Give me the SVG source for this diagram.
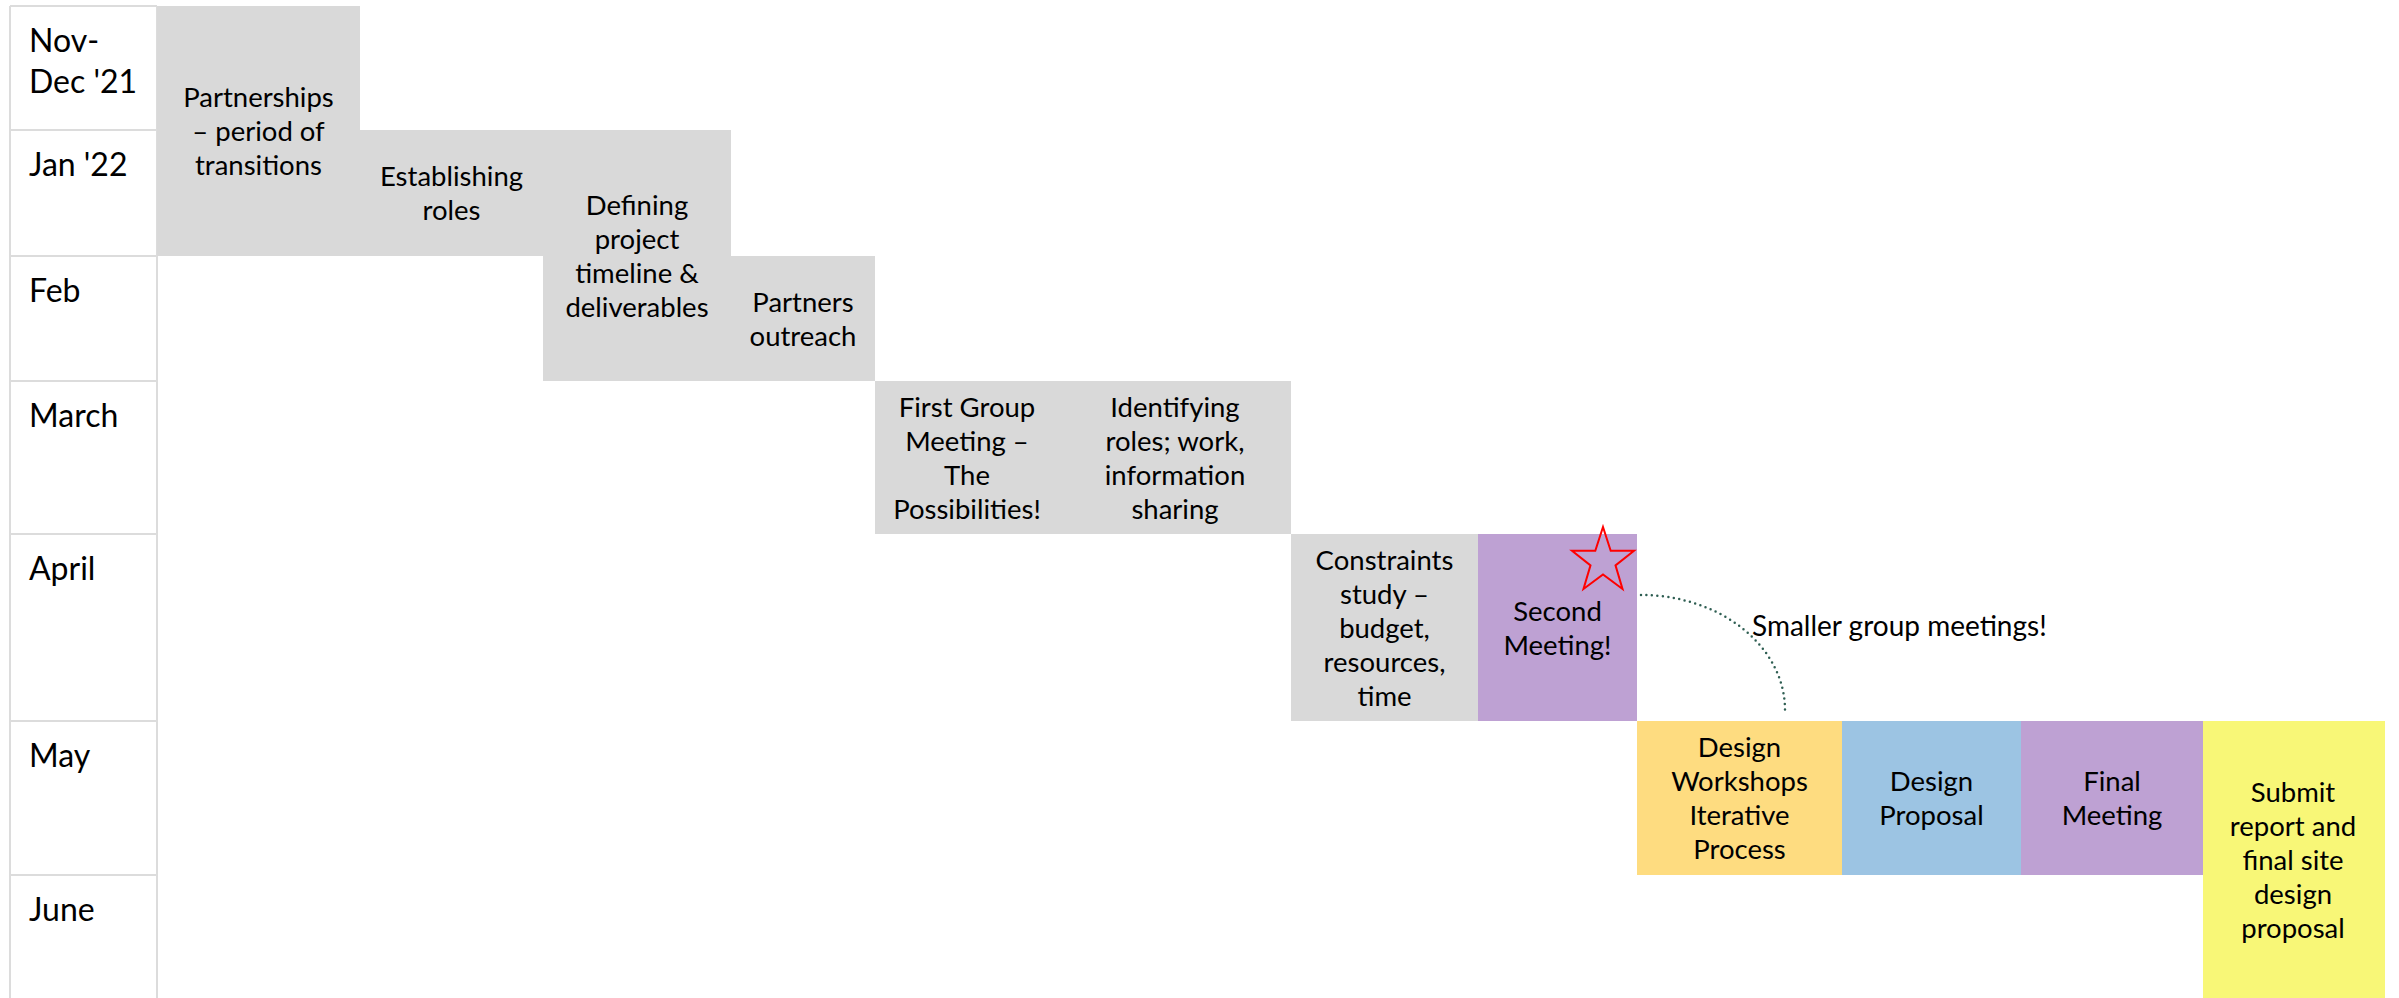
<svg xmlns="http://www.w3.org/2000/svg" width="2399" height="998" viewBox="0 0 2399 998">
<style>
.grid{stroke:#DCDCDC;stroke-width:2;fill:none}
.mon{font-family:Lato,"Liberation Sans",sans-serif;font-size:32px;fill:#000}
.t{font-family:Lato,"Liberation Sans",sans-serif;font-size:27.5px;fill:#000;text-anchor:middle}
.gray{fill:#D9D9D9}
.purple{fill:#BEA1D3}
.gold{fill:#FEDC80}
.blue{fill:#9CC4E3}
.yellow{fill:#F8F777}
.note{font-family:Lato,"Liberation Sans",sans-serif;font-size:28px;fill:#000}
</style>
<rect width="2399" height="998" fill="#fff"/>
<g id="table">
<path class="grid" d="M10,6V998M157,6V998M10,6H157M10,130H157M10,256H157M10,381H157M10,534H157M10,721H157M10,875H157"/>
<text class="mon" x="29" y="52">Nov-</text>
<text class="mon" x="29" y="93">Dec '21</text>
<text class="mon" x="29" y="176">Jan '22</text>
<text class="mon" x="29" y="302">Feb</text>
<text class="mon" x="29" y="427">March</text>
<text class="mon" x="29" y="580">April</text>
<text class="mon" x="29" y="767">May</text>
<text class="mon" x="29" y="921">June</text>
</g>
<g id="n1"><rect class="gray" x="157" y="6" width="203" height="250"/>
<text class="t" x="258.5" y="107">Partnerships</text><text class="t" x="258.5" y="141">– period of</text><text class="t" x="258.5" y="175">transitions</text></g>
<g id="n2"><rect class="gray" x="360" y="130" width="183" height="126"/>
<text class="t" x="451.5" y="186">Establishing</text><text class="t" x="451.5" y="220">roles</text></g>
<g id="n3"><rect class="gray" x="543" y="130" width="188" height="251"/>
<text class="t" x="637" y="214.5">Defining</text><text class="t" x="637" y="248.5">project</text><text class="t" x="637" y="282.5">timeline &amp;</text><text class="t" x="637" y="316.5">deliverables</text></g>
<g id="n4"><rect class="gray" x="731" y="256" width="144" height="125"/>
<text class="t" x="803" y="311.5">Partners</text><text class="t" x="803" y="345.5">outreach</text></g>
<g id="n5"><rect class="gray" x="875" y="381" width="184" height="153"/>
<text class="t" x="967" y="416.5">First Group</text><text class="t" x="967" y="450.5">Meeting –</text><text class="t" x="967" y="484.5">The</text><text class="t" x="967" y="518.5">Possibilities!</text></g>
<g id="n6"><rect class="gray" x="1059" y="381" width="232" height="153"/>
<text class="t" x="1175" y="416.5">Identifying</text><text class="t" x="1175" y="450.5">roles; work,</text><text class="t" x="1175" y="484.5">information</text><text class="t" x="1175" y="518.5">sharing</text></g>
<g id="n7"><rect class="gray" x="1291" y="534" width="187" height="187"/>
<text class="t" x="1384.5" y="569.5">Constraints</text><text class="t" x="1384.5" y="603.5">study –</text><text class="t" x="1384.5" y="637.5">budget,</text><text class="t" x="1384.5" y="671.5">resources,</text><text class="t" x="1384.5" y="705.5">time</text></g>
<g id="n8"><rect class="purple" x="1478" y="534" width="159" height="187"/>
<text class="t" x="1557.5" y="620.5">Second</text><text class="t" x="1557.5" y="654.5">Meeting!</text>
<polygon points="1603,527 1610.7,550.7 1634,550.7 1615.5,565.4 1622.5,589 1603,574.4 1583.5,589 1590.5,565.4 1572,550.7 1595.3,550.7" fill="none" stroke="#FF0000" stroke-width="2" stroke-linejoin="miter"/></g>
<g id="n9"><rect class="gold" x="1637" y="721" width="205" height="154"/>
<text class="t" x="1739.5" y="757">Design</text><text class="t" x="1739.5" y="791">Workshops</text><text class="t" x="1739.5" y="825">Iterative</text><text class="t" x="1739.5" y="859">Process</text></g>
<g id="n10"><rect class="blue" x="1842" y="721" width="179" height="154"/>
<text class="t" x="1931.5" y="791">Design</text><text class="t" x="1931.5" y="825">Proposal</text></g>
<g id="n11"><rect class="purple" x="2021" y="721" width="182" height="154"/>
<text class="t" x="2112" y="791">Final</text><text class="t" x="2112" y="825">Meeting</text></g>
<g id="n12"><rect class="yellow" x="2203" y="721" width="182" height="277"/>
<text class="t" x="2293" y="802">Submit</text><text class="t" x="2293" y="836">report and</text><text class="t" x="2293" y="870">final site</text><text class="t" x="2293" y="904">design</text><text class="t" x="2293" y="938">proposal</text></g>
<g id="connectors">
<path d="M1641,595 A144,115 0 0 1 1785,710" fill="none" stroke="#2E5E52" stroke-width="2.5" stroke-linecap="round" stroke-dasharray="0 5.5"/>
</g>
<g id="note"><text class="note" x="1752" y="636">Smaller group meetings!</text></g>
</svg>
